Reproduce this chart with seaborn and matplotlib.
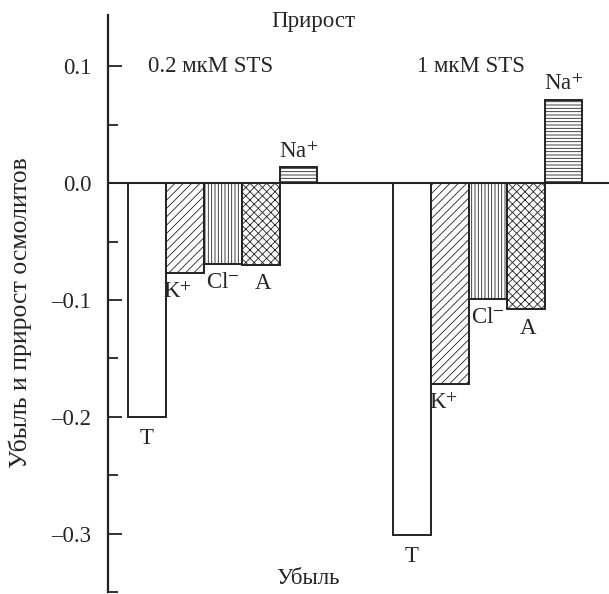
import matplotlib
matplotlib.use("Agg")
import matplotlib.pyplot as plt
import seaborn as sns
import pandas as pd
import numpy as np

# Data
ions = ["T", "K$^{+}$", "Cl$^{-}$", "A", "Na$^{+}$"]
hatches = ["", "////", "|||||", "xxxx", "-----"]
sts_low_values = [-0.200, -0.077, -0.069, -0.070, 0.0135]   # 0.2 мкМ STS
sts_high_values = [-0.301, -0.172, -0.099, -0.108, 0.0715]  # 1 мкМ STS
group_labels = ["0.2 мкМ STS", "1 мкМ STS"]
yticks = [-0.3, -0.2, -0.1, 0.0, 0.1]
ytick_labels = ["\u20130.3", "\u20130.2", "\u20130.1", "0.0", "0.1"]

pos_low = [0, 1, 2, 3, 4]
pos_high = [7, 8, 9, 10, 11]

df = pd.DataFrame({
    "pos": pos_low + pos_high,
    "value": sts_low_values + sts_high_values,
    "ion": ions + ions,
    "hatch": hatches + hatches,
})

sns.set_theme(style="white")
plt.rcParams["font.family"] = ["Liberation Serif", "DejaVu Serif"]
plt.rcParams["mathtext.fontset"] = "stix"
plt.rcParams["hatch.linewidth"] = 0.6

FS = 16.5

fig = plt.figure(figsize=(6.09, 5.94), dpi=100)
ax = fig.add_axes([108 / 609, 0.003, 1 - 108 / 609, 0.972])

sns.barplot(data=df, x="pos", y="value", native_scale=True, width=1.0,
            color="white", edgecolor="#222222", linewidth=1.4, ax=ax,
            saturation=1, errorbar=None)

bars = sorted(ax.patches, key=lambda p: p.get_x())
for bar, h in zip(bars, df.sort_values("pos")["hatch"]):
    bar.set_hatch(h)
    bar.set_facecolor("white")
    bar.set_edgecolor("#222222")

ax.set_xlim(-1.03, 12.2)
ax.set_ylim(-0.347, 0.144)
ax.axhline(0, color="#222222", lw=1.5, zorder=5)

for s in ["top", "right", "bottom"]:
    ax.spines[s].set_visible(False)
ax.spines["left"].set_linewidth(1.6)
ax.spines["left"].set_color("#222222")

ax.set_xticks([])
ax.set_xlabel("")
ax.set_yticks(yticks)
ax.set_yticklabels(ytick_labels, fontsize=FS)
ax.set_yticks(np.arange(-0.35, 0.15, 0.05), minor=True)
ax.tick_params(axis="y", which="major", direction="in", length=10, width=1.3,
               pad=12, left=True, color="#222222")
ax.tick_params(axis="y", which="minor", direction="in", length=7, width=1.3,
               left=True, color="#222222")
ax.grid(False)

ax.set_ylabel("Убыль и прирост осмолитов", fontsize=18.5)
ax.yaxis.set_label_coords(-0.152, 0.485)

# Bar labels
offsets = {0: (0, -8), 1: (-5, -6), 2: (0, -6), 3: (2, -6), 4: (0, 3)}
for i, (p, v, lab) in enumerate(zip(df["pos"], df["value"], df["ion"])):
    dx, dy = offsets[i % 5]
    va = "bottom" if v > 0 else "top"
    ax.annotate(lab, (p, v), xytext=(dx, dy), textcoords="offset points",
                ha="center", va=va, fontsize=FS)

ax.text(1.67, 0.1, group_labels[0], ha="center", va="center", fontsize=FS)
ax.text(8.55, 0.1, group_labels[1], ha="center", va="center", fontsize=FS)
fig.text(313 / 609, 1 - 22 / 594, "Прирост", ha="center", va="center", fontsize=FS)
fig.text(308 / 609, 1 - 578 / 594, "Убыль", ha="center", va="center", fontsize=FS)

fig.savefig("out.png", dpi=100)
